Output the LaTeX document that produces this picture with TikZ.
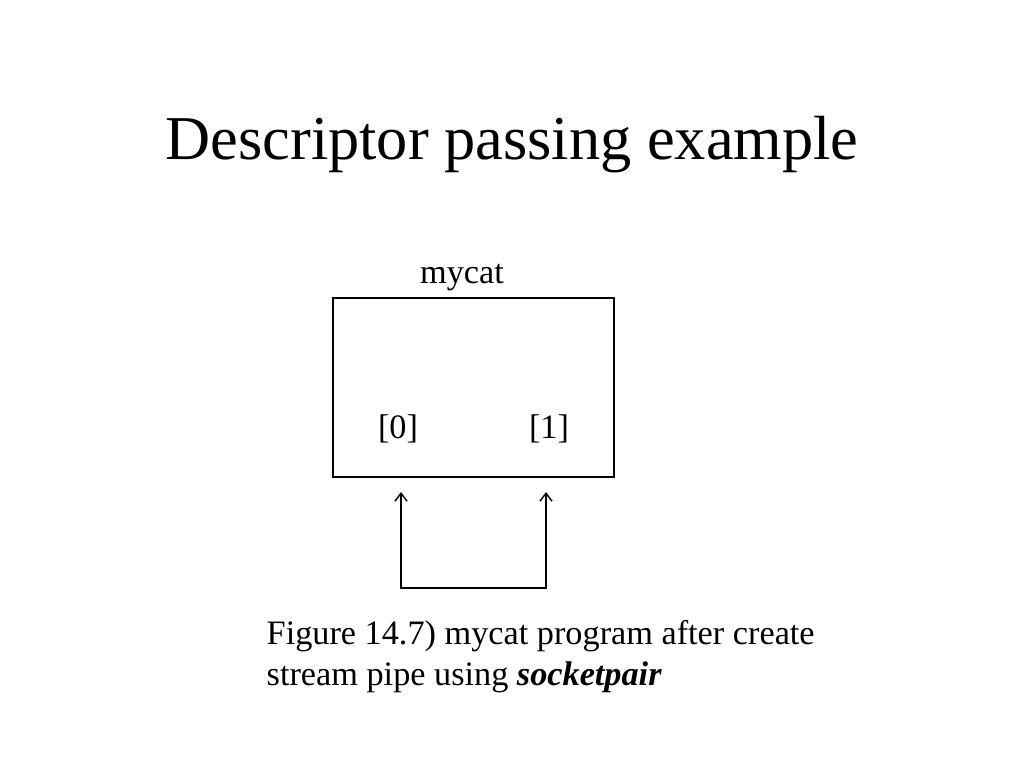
\documentclass[tikz,border=0pt]{standalone}
\usepackage{fontspec}
\setmainfont{Liberation Serif}
\usetikzlibrary{arrows.meta}
\begin{document}
\begin{tikzpicture}[x=0.02cm,y=-0.02cm,
    line width=0.8pt,
    pipe/.style={{Straight Barb[length=1.6mm,width=2.4mm]}-{Straight Barb[length=1.6mm,width=2.4mm]}},
    label/.style={font=\fontsize{19.5}{23}\selectfont, inner sep=0pt}]
    % Frame
    \useasboundingbox (0,0) rectangle (1024,768);

    % Title
    \node[font=\fontsize{35.5}{40}\selectfont, inner sep=0pt, anchor=base] (title) at (512,159) {Descriptor passing example};

    % Process box
    \node[draw, minimum width=5.62cm, minimum height=3.58cm, inner sep=0pt] (mycat) at (473.5,387.5) {};
    \node[label, anchor=base] (name) at (462,283) {mycat};
    \node[label, anchor=base] (fd0) at (398,438) {[0]};
    \node[label, anchor=base] (fd1) at (549,438) {[1]};

    % Stream pipe
    \coordinate (end0) at (401,492);
    \coordinate (end1) at (546,492);
    \coordinate (loop) at (473,588);
    \draw[pipe] (end0) |- (loop) -| (end1);

    % Caption
    \node[label, anchor=base west, align=left] (caption) at (266,685)
        {Figure 14.7) mycat program after create\\stream pipe using \textbf{\textit{socketpair}}};
\end{tikzpicture}
\end{document}
